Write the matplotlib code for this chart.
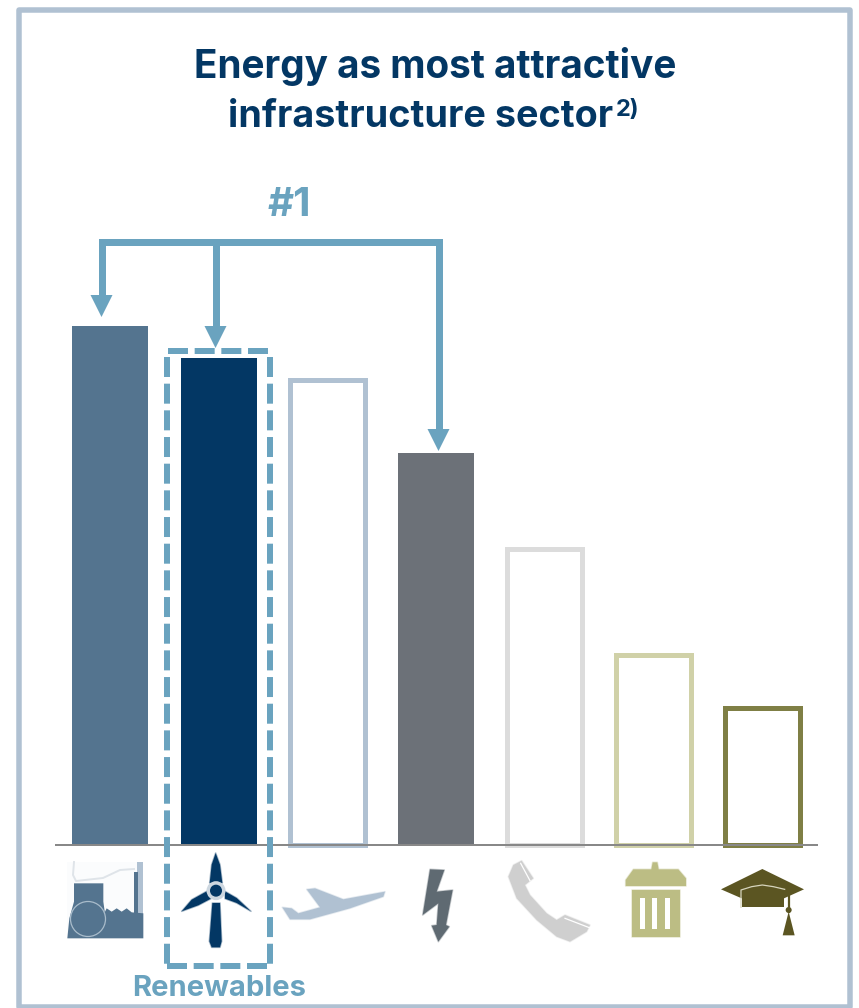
import matplotlib
matplotlib.use('Agg')
from matplotlib import pyplot as plt
from matplotlib.patches import Circle, Polygon, Rectangle

W, H = 859, 1008
BASE_Y = 845
PT = 72 / 100  # one pixel in points at dpi 100

sectors = ['Conventional power', 'Renewables', 'Airports', 'Grids', 'Telecom', 'Waste', 'Education']
scores = [100.0, 93.8, 89.5, 75.5, 57.0, 36.7, 26.3]
fill_colors = ['#54748f', '#033764', 'white', '#6c7178', 'white', 'white', 'white']
edge_colors = ['#54748f', '#033764', '#b0c1d2', '#6c7178', '#dcdcdc', '#d0d1a8', '#7f7f45']
outlined = [False, False, True, False, True, True, True]

NAVY = '#033764'
TEAL = '#6aa3bf'
FONT = 'Inter'

fig = plt.figure(figsize=(W / 100, H / 100), dpi=100, facecolor='white')

# bars sit on their own axes, the category step is 108.67 px
ax = fig.add_axes([0, (H - BASE_Y) / H, 1, BASE_Y / H])
step = 108.67
ax.set_xlim(-110 / step, (W - 110) / step)
ax.set_ylim(0, 162.8)
ax.axis('off')
for i, name in enumerate(sectors):
    lw = 5 * PT if outlined[i] else 0
    ax.bar(i, scores[i], width=0.7 if not outlined[i] else 0.69, color=fill_colors[i],
           edgecolor=edge_colors[i], linewidth=lw, label=name, clip_on=False, zorder=2)

# everything else is laid out in pixels, y going down
top = fig.add_axes([0, 0, 1, 1])
top.set_xlim(0, W)
top.set_ylim(H, 0)
top.axis('off')
top.patch.set_alpha(0)


def poly(points, color, z=3, soft=False):
    # soft icons get a faint wider edge so the outline fades out
    top.add_patch(Polygon(points, closed=True, facecolor=color, edgecolor='none', zorder=z))
    if soft:
        top.add_patch(Polygon(points, closed=True, fill=False, edgecolor=color, alpha=0.35,
                              linewidth=1.6 * PT, joinstyle='round', zorder=z))


def zoomed(points, x0, y0):
    return [(x0 + x / 3, y0 + y / 3) for x, y in points]


# frame
top.add_patch(Rectangle((18.5, 9.5), 831.5, 997, fill=False, edgecolor='#b0c1d2',
                        linewidth=5.5 * PT, joinstyle='round'))

# baseline
top.plot([56, 817], [BASE_Y, BASE_Y], color='#888888', lw=2 * PT, zorder=4)

# title
top.text(435, 66, 'Energy as most attractive', ha='center', va='center', color=NAVY,
         fontsize=27.9, fontweight='bold', family=FONT)
top.text(420.5, 117, 'infrastructure sector', ha='center', va='center', color=NAVY,
         fontsize=27.2, fontweight='bold', family=FONT)
top.text(616, 110, '2)', ha='left', va='center', color=NAVY, fontsize=17, fontweight='bold', family=FONT)

# bracket with three arrows
top.text(289, 205, '#1', ha='center', va='center', color=TEAL, fontsize=29, fontweight='bold', family=FONT)
top.plot([101.5, 438.5], [241.5, 241.5], color=TEAL, lw=7 * PT, solid_capstyle='projecting', zorder=5)
for x, tip in [(101.5, 317), (215.5, 348), (438.5, 451)]:
    top.plot([x, x], [241.5, tip - 20], color=TEAL, lw=7 * PT, solid_capstyle='butt', zorder=5)
    poly([(x - 11, tip - 22), (x + 11, tip - 22), (x, tip)], TEAL, z=6)

# dashed box round the renewables column
dash = (20 / 6, 6.67 / 6)
box_sides = [([168.3, 268], [351, 351]), ([167, 167], [356.7, 964]), ([270, 270], [356.7, 964]),
             ([167, 267], [965.5, 965.5])]
for xs, ys in box_sides:
    top.plot(xs, ys, color=TEAL, lw=6 * PT, linestyle=(0, dash), dash_capstyle='butt', zorder=5)
top.text(219, 988, 'Renewables', ha='center', va='center', color=TEAL, fontsize=21, fontweight='bold', family=FONT)

# power plant icon
c = '#54748f'
top.add_patch(Rectangle((67, 862), 76, 76, facecolor='#fbfcfd', edgecolor='none', zorder=3))
top.add_patch(Rectangle((137, 862), 6, 52, facecolor='#b0c1d2', edgecolor='none', zorder=3))
top.add_patch(Rectangle((134, 872), 3.5, 42, facecolor=c, edgecolor='none', zorder=3))
poly(zoomed([(135, 170), (140, 160), (155, 170), (170, 160), (185, 170), (200, 160), (215, 172),
             (250, 175), (250, 250), (135, 250)], 60, 855), c)
poly(zoomed([(42, 85), (130, 85), (130, 140), (137, 190), (135, 250), (22, 250), (28, 190), (42, 140)],
         60, 855), c)
top.add_patch(Circle((88, 919), 17.5, fill=False, edgecolor='#a9bccb', lw=0.9, zorder=4))
top.plot([74, 73, 76, 103, 120, 134], [862, 875, 881, 878, 870, 869], color='#dfe4e9', lw=1.4, zorder=4)

# wind turbine icon
poly(zoomed([(122, 15), (135, 50), (142, 105), (104, 105), (110, 50)], 175, 848), NAVY, soft=True)
poly(zoomed([(20, 190), (50, 155), (95, 130), (108, 152), (70, 172)], 175, 848), NAVY, soft=True)
poly(zoomed([(228, 190), (185, 165), (150, 152), (150, 130), (185, 150)], 175, 848), NAVY, soft=True)
poly(zoomed([(112, 165), (135, 165), (140, 280), (135, 298), (110, 298), (103, 280)], 175, 848), NAVY, soft=True)
hub = (175 + 123 / 3, 848 + 128 / 3)
top.add_patch(Circle(hub, 9.5, facecolor='#cdd7e0', edgecolor='none', zorder=4))
top.add_patch(Circle(hub, 6, facecolor=NAVY, edgecolor='none', zorder=5))

# plane icon
poly(zoomed([(697, 232), (725, 235), (745, 250), (810, 232), (770, 178), (795, 175), (880, 208),
             (1005, 185), (1000, 200), (900, 235), (780, 268), (720, 268)], 50, 830), '#b0c1d2', soft=True)

# lightning bolt icon
poly(zoomed([(60, 28), (103, 30), (80, 95), (128, 90), (108, 195), (118, 200), (85, 245), (65, 197),
             (80, 195), (85, 130), (38, 165)], 410, 860), '#5f6a72', soft=True)

# telephone icon
poly(zoomed([(175, 140), (190, 105), (215, 92), (250, 145), (225, 165), (240, 195), (290, 250),
             (320, 270), (345, 255), (420, 285), (410, 305), (360, 335), (320, 320), (260, 270),
             (200, 205)], 450, 830), '#cfcfcf', soft=True)
top.plot([450 + 212 / 3, 450 + 240 / 3], [830 + 100 / 3, 830 + 152 / 3], color='white', lw=0.9, zorder=4)
top.plot([450 + 345 / 3, 450 + 418 / 3], [830 + 265 / 3, 830 + 293 / 3], color='white', lw=0.9, zorder=4)

# dustbin icon
olive = '#bcbd84'
poly(zoomed([(550, 118), (604, 118), (608, 97), (622, 97), (626, 118), (685, 118), (708, 145),
             (708, 168), (527, 168), (527, 150)], 450, 830), olive, soft=True)
poly(zoomed([(545, 180), (690, 180), (690, 322), (545, 322)], 450, 830), olive, soft=True)
for sx in (570, 607, 645):
    poly(zoomed([(sx, 203), (sx + 15, 203), (sx + 15, 297), (sx, 297)], 450, 830), 'white', z=4)

# graduation cap icon
cap = '#5b5522'
poly(zoomed([(875, 175), (1002, 175), (1002, 232), (875, 232)], 450, 830), cap)
poly(zoomed([(813, 178), (937, 117), (1062, 178), (1002, 205), (875, 205)], 450, 830), cap)
top.plot([450 + 873 / 3, 450 + 873 / 3, 450 + 905 / 3, 450 + 937 / 3, 450 + 970 / 3, 450 + 1004 / 3],
         [830 + 232 / 3, 830 + 180 / 3, 830 + 170 / 3, 830 + 165 / 3, 830 + 170 / 3, 830 + 178 / 3],
         color='#d6d4bc', lw=0.9, zorder=4)
top.plot([450 + 1016 / 3] * 2, [830 + 195 / 3, 830 + 245 / 3], color=cap, lw=1.6, zorder=4)
top.add_patch(Circle((450 + 1016 / 3, 830 + 240 / 3), 3, facecolor=cap, edgecolor='none', zorder=4))
poly(zoomed([(1016, 245), (998, 316), (1034, 316)], 450, 830), cap)

fig.savefig('out.png', dpi=100)
